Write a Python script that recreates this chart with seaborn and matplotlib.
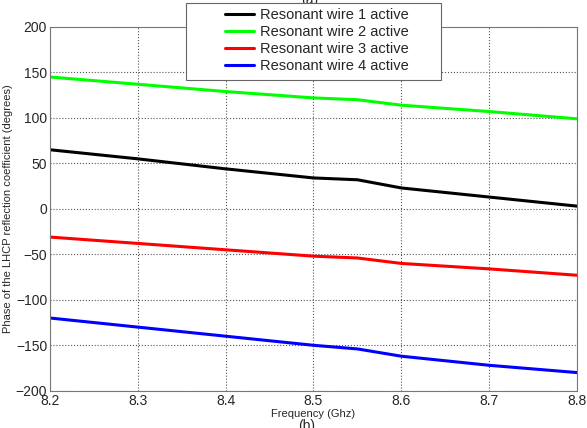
import pandas as pd
import seaborn as sns
import matplotlib.pyplot as plt
from matplotlib.patches import Rectangle

# datos
freq = [8.2, 8.3, 8.4, 8.5, 8.55, 8.6, 8.7, 8.8]
wire1 = [65, 55, 44, 34, 32, 23, 13, 3]
wire2 = [145, 137, 129, 122, 120, 114, 107, 99]
wire3 = [-31, -38, -45, -52, -54, -60, -66, -73]
wire4 = [-120, -130, -140, -150, -154, -162, -172, -180]
labels = ['Resonant wire 1 active', 'Resonant wire 2 active',
          'Resonant wire 3 active', 'Resonant wire 4 active']
colors = ['black', '#00ff00', 'red', 'blue']

rows = []
for lab, vals in zip(labels, [wire1, wire2, wire3, wire4]):
    for f, v in zip(freq, vals):
        rows.append({'Frequency': f, 'Phase': v, 'Serie': lab})
df = pd.DataFrame(rows)

sns.set_style("white")
plt.rcParams['font.family'] = ['Liberation Sans', 'DejaVu Sans']

fig = plt.figure(figsize=(5.87, 4.28), dpi=100)
ax = fig.add_axes([0.085, 0.087, 0.898, 0.85])

sns.lineplot(data=df, x='Frequency', y='Phase', hue='Serie', palette=colors,
             linewidth=2.2, ax=ax, legend=False)

ax.set_xlim(8.2, 8.8)
ax.set_ylim(-200, 200)
ax.set_xticks([8.2, 8.3, 8.4, 8.5, 8.6, 8.7, 8.8])
ax.set_yticks(range(-200, 201, 50))
ax.tick_params(direction='in', length=4, labelsize=10, color='#555555', pad=2)
ax.grid(True, linestyle=':', color='#555555', linewidth=0.8)
for s in ax.spines.values():
    s.set_color('#777777')
    s.set_linewidth(0.8)

ax.set_xlabel('Frequency (Ghz)', fontsize=8, labelpad=1)
ax.set_ylabel('Phase of the LHCP reflection coefficient (degrees)', fontsize=8, labelpad=2)

# titulos (a) y (b) medio tapados como en el original
fig.text(0.528, 1.0, '(a)', ha='center', va='center', fontsize=10, zorder=3)
fig.text(0.523, 0.021, '(b)', ha='center', va='top', fontsize=10)

# caja de la leyenda
box = Rectangle((0.317, 0.813), 0.434, 0.180, transform=fig.transFigure,
                facecolor='white', edgecolor='#666666', linewidth=0.8, zorder=5)
fig.add_artist(box)

handles = ax.get_lines()[:4]
leg = fig.legend(handles, labels, loc='center', bbox_to_anchor=(0.539, 0.905),
                 fontsize=10.5, frameon=False, handlelength=2.05,
                 labelspacing=0.22, borderpad=0.2, handletextpad=0.35)
leg.set_zorder(10)

fig.savefig('out.png', dpi=100)
